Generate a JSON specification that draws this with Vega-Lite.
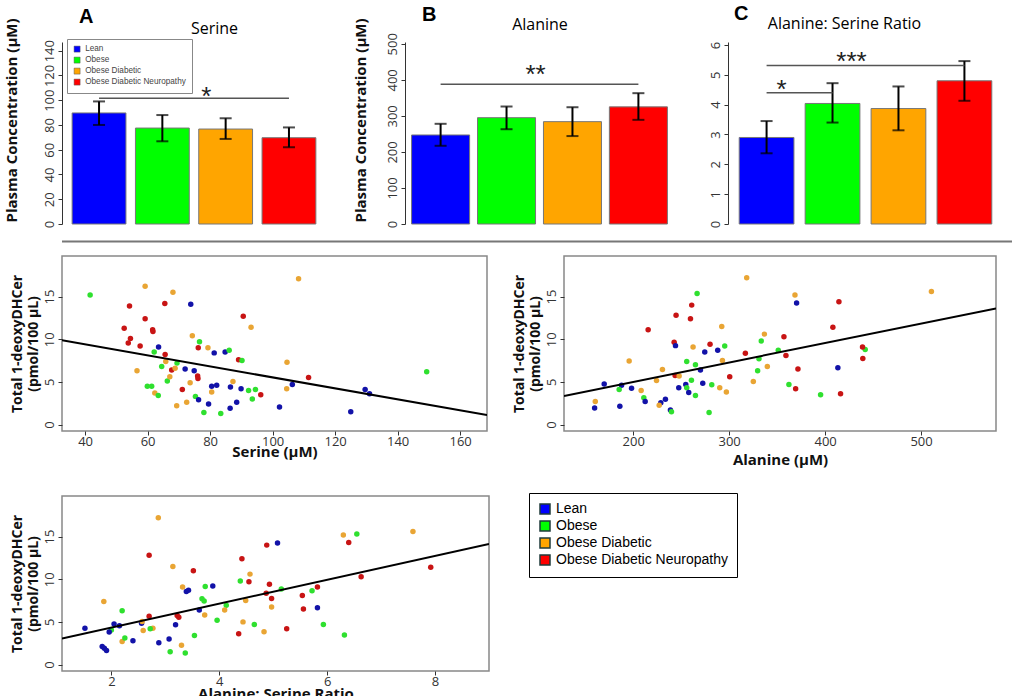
{
 "$schema": "https://vega.github.io/schema/vega-lite/v6.json",
 "padding": {"left": 3, "top": 4, "right": 0, "bottom": 0},
 "background": "white",
 "config": {
  "font": "Open Sans",
  "view": {"stroke": null},
  "axis": {"grid": false, "labelFont": "Open Sans", "labelFontSize": 13, "labelColor": "#333", "tickColor": "#333", "domainColor": "#333", "titleFont": "Open Sans", "titleFontWeight": "bold", "titleColor": "#111", "tickSize": 4, "labelPadding": 2}
 },
 "datasets": {
  "bars": [
   {"group": "Lean", "serine": 89.7, "serLo": 80, "serHi": 99, "alanine": 247, "alaLo": 217, "alaHi": 278, "ratio": 2.9, "ratLo": 2.37, "ratHi": 3.45},
   {"group": "Obese", "serine": 77.5, "serLo": 66.8, "serHi": 88, "alanine": 295, "alaLo": 263, "alaHi": 326, "ratio": 4.04, "ratLo": 3.4, "ratHi": 4.72},
   {"group": "Obese Diabetic", "serine": 76.7, "serLo": 68.7, "serHi": 85.4, "alanine": 284, "alaLo": 244, "alaHi": 324, "ratio": 3.87, "ratLo": 3.14, "ratHi": 4.61},
   {"group": "Obese Diabetic Neuropathy", "serine": 69.7, "serLo": 62, "serHi": 78, "alanine": 325, "alaLo": 289, "alaHi": 363, "ratio": 4.8, "ratLo": 4.13, "ratHi": 5.46}
  ],
  "sig": [
   {"panel": "A", "from": "Lean", "to": "Obese Diabetic Neuropathy", "y": 101.5, "star": "*", "sy": 108.2},
   {"panel": "B", "from": "Lean", "to": "Obese Diabetic Neuropathy", "y": 388, "star": "**", "sy": 433},
   {"panel": "C", "from": "Lean", "to": "Obese Diabetic Neuropathy", "y": 5.31, "star": "***", "sy": 5.67},
   {"panel": "C2", "from": "Lean", "to": "Obese", "y": 4.4, "star": "*", "sy": 4.73}
  ],
  "D": [
   {"g":"O","x":41.6,"y":15.2},{"g":"OD","x":59.2,"y":16.2},{"g":"OD","x":68.1,"y":15.5},{"g":"ODN","x":65.5,"y":14.2},{"g":"L","x":73.8,"y":14.1},{"g":"ODN","x":54.2,"y":13.9},{"g":"ODN","x":59.2,"y":12.4},{"g":"ODN","x":90.6,"y":12.7},{"g":"ODN","x":52.5,"y":11.3},{"g":"OD","x":93.1,"y":11.4},{"g":"ODN","x":61.7,"y":10.9},{"g":"ODN","x":61.6,"y":11.1},{"g":"OD","x":74.3,"y":10.4},{"g":"ODN","x":54.5,"y":10.1},{"g":"ODN","x":53.8,"y":9.55},{"g":"ODN","x":57.6,"y":9.2},{"g":"L","x":63.5,"y":9.1},{"g":"O","x":76.6,"y":9.7},{"g":"OD","x":79.3,"y":9.0},{"g":"ODN","x":76.2,"y":9.0},{"g":"L","x":81.3,"y":8.4},{"g":"L","x":84.8,"y":8.5},{"g":"O","x":86.1,"y":8.7},{"g":"O","x":62.1,"y":8.5},{"g":"ODN","x":65.6,"y":8.2},{"g":"OD","x":65.8,"y":7.4},{"g":"ODN","x":89.1,"y":7.6},{"g":"O","x":90.2,"y":7.5},{"g":"O","x":69.4,"y":7.2},{"g":"OD","x":104.6,"y":7.3},{"g":"O","x":64.5,"y":6.8},{"g":"ODN","x":67.7,"y":6.4},{"g":"OD","x":68.8,"y":6.6},{"g":"L","x":72.0,"y":6.5},{"g":"L","x":74.9,"y":6.3},{"g":"OD","x":56.6,"y":6.3},{"g":"O","x":149.3,"y":6.2},{"g":"ODN","x":76.0,"y":5.7},{"g":"ODN","x":76.1,"y":5.4},{"g":"ODN","x":111.5,"y":5.5},{"g":"OD","x":87.3,"y":5.05},{"g":"O","x":66.3,"y":5.1},{"g":"OD","x":67.1,"y":5.6},{"g":"OD","x":73.6,"y":4.9},{"g":"L","x":80.5,"y":4.5},{"g":"L","x":82.1,"y":4.6},{"g":"L","x":86.5,"y":4.4},{"g":"L","x":89.9,"y":4.2},{"g":"L","x":106.3,"y":4.7},{"g":"O","x":59.9,"y":4.5},{"g":"O","x":61.3,"y":4.5},{"g":"OD","x":104.5,"y":4.2},{"g":"L","x":129.6,"y":4.1},{"g":"L","x":131.0,"y":3.6},{"g":"ODN","x":71.1,"y":4.1},{"g":"O","x":92.3,"y":4.0},{"g":"O","x":94.5,"y":4.1},{"g":"OD","x":80.5,"y":3.8},{"g":"OD","x":62.3,"y":3.7},{"g":"O","x":63.4,"y":3.4},{"g":"O","x":75.3,"y":3.3},{"g":"O","x":93.5,"y":3.0},{"g":"ODN","x":96.2,"y":3.5},{"g":"L","x":76.3,"y":2.9},{"g":"OD","x":72.5,"y":2.6},{"g":"OD","x":69.3,"y":2.2},{"g":"L","x":79.5,"y":2.4},{"g":"L","x":88.5,"y":2.6},{"g":"L","x":86.4,"y":1.9},{"g":"L","x":102.2,"y":2.05},{"g":"L","x":125.0,"y":1.5},{"g":"O","x":78.0,"y":1.4},{"g":"O","x":83.4,"y":1.3},{"g":"OD","x":108.3,"y":17.1}
  ],
  "DL": [{"x": 32.6, "y": 9.87}, {"x": 168.6, "y": 1.1}],
  "E": [
   {"g":"OD","x":318.3,"y":17.2},{"g":"O","x":266.6,"y":15.35},{"g":"OD","x":368.6,"y":15.2},{"g":"OD","x":510.8,"y":15.6},{"g":"L","x":370.3,"y":14.25},{"g":"ODN","x":414.4,"y":14.4},{"g":"ODN","x":261.0,"y":14.0},{"g":"ODN","x":244.7,"y":12.8},{"g":"ODN","x":259.7,"y":12.4},{"g":"ODN","x":215.6,"y":11.1},{"g":"OD","x":292.3,"y":11.5},{"g":"ODN","x":408.1,"y":11.4},{"g":"OD","x":336.7,"y":10.6},{"g":"O","x":333.5,"y":9.8},{"g":"ODN","x":357.1,"y":10.3},{"g":"ODN","x":242.7,"y":9.65},{"g":"L","x":244.1,"y":9.25},{"g":"OD","x":262.4,"y":9.1},{"g":"ODN","x":280.1,"y":9.4},{"g":"O","x":295.4,"y":9.2},{"g":"L","x":288.1,"y":8.7},{"g":"L","x":274.6,"y":8.5},{"g":"O","x":351.2,"y":8.7},{"g":"O","x":441.8,"y":8.8},{"g":"ODN","x":439.0,"y":9.1},{"g":"ODN","x":316.9,"y":8.35},{"g":"ODN","x":359.2,"y":8.1},{"g":"O","x":331.1,"y":7.7},{"g":"ODN","x":439.3,"y":7.75},{"g":"OD","x":195.8,"y":7.45},{"g":"OD","x":293.0,"y":7.5},{"g":"O","x":255.8,"y":7.4},{"g":"O","x":264.9,"y":7.0},{"g":"OD","x":339.8,"y":6.8},{"g":"L","x":270.1,"y":6.4},{"g":"ODN","x":371.7,"y":6.5},{"g":"L","x":413.3,"y":6.65},{"g":"OD","x":230.5,"y":6.45},{"g":"O","x":329.7,"y":6.3},{"g":"ODN","x":243.7,"y":5.75},{"g":"OD","x":247.9,"y":5.7},{"g":"ODN","x":300.6,"y":5.6},{"g":"O","x":260.7,"y":5.2},{"g":"OD","x":224.3,"y":5.15},{"g":"L","x":254.8,"y":4.7},{"g":"L","x":272.5,"y":4.85},{"g":"OD","x":325.2,"y":5.05},{"g":"O","x":281.9,"y":4.65},{"g":"O","x":362.3,"y":4.7},{"g":"L","x":247.5,"y":4.3},{"g":"L","x":169.8,"y":4.75},{"g":"L","x":187.9,"y":4.6},{"g":"L","x":198.3,"y":4.25},{"g":"OD","x":208.3,"y":4.0},{"g":"O","x":185.4,"y":4.1},{"g":"ODN","x":369.3,"y":4.2},{"g":"O","x":255.8,"y":4.3},{"g":"L","x":257.9,"y":3.75},{"g":"OD","x":290.2,"y":4.3},{"g":"OD","x":297.1,"y":3.8},{"g":"O","x":264.9,"y":3.4},{"g":"O","x":395.3,"y":3.5},{"g":"ODN","x":416.1,"y":3.6},{"g":"O","x":211.1,"y":3.15},{"g":"L","x":212.5,"y":2.7},{"g":"L","x":233.6,"y":2.95},{"g":"L","x":228.8,"y":2.55},{"g":"OD","x":160.5,"y":2.7},{"g":"OD","x":227.1,"y":2.25},{"g":"L","x":238.8,"y":1.7},{"g":"O","x":239.9,"y":1.5},{"g":"L","x":186.1,"y":2.15},{"g":"L","x":159.8,"y":1.95},{"g":"O","x":279.1,"y":1.4}
  ],
  "EL": [{"x": 127.9, "y": 3.35}, {"x": 578.1, "y": 13.62}],
  "F": [
   {"g":"OD","x":2.87,"y":17.2},{"g":"OD","x":6.30,"y":15.2},{"g":"O","x":6.55,"y":15.3},{"g":"OD","x":7.59,"y":15.6},{"g":"L","x":5.08,"y":14.25},{"g":"ODN","x":4.88,"y":14.0},{"g":"ODN","x":6.40,"y":14.3},{"g":"ODN","x":2.70,"y":12.8},{"g":"ODN","x":4.42,"y":12.4},{"g":"OD","x":3.14,"y":11.5},{"g":"ODN","x":3.52,"y":11.0},{"g":"ODN","x":7.92,"y":11.4},{"g":"ODN","x":6.63,"y":10.3},{"g":"OD","x":4.57,"y":10.6},{"g":"O","x":4.39,"y":9.8},{"g":"ODN","x":4.55,"y":9.7},{"g":"ODN","x":4.93,"y":9.4},{"g":"OD","x":3.32,"y":9.1},{"g":"L","x":3.39,"y":8.55},{"g":"L","x":3.43,"y":8.7},{"g":"L","x":3.88,"y":9.2},{"g":"O","x":3.74,"y":9.15},{"g":"ODN","x":5.82,"y":9.1},{"g":"ODN","x":4.87,"y":8.35},{"g":"O","x":5.15,"y":8.85},{"g":"ODN","x":4.97,"y":7.75},{"g":"O","x":5.72,"y":8.65},{"g":"ODN","x":5.54,"y":8.1},{"g":"ODN","x":5.56,"y":6.5},{"g":"O","x":3.68,"y":7.7},{"g":"O","x":3.72,"y":7.45},{"g":"OD","x":4.49,"y":7.5},{"g":"OD","x":4.97,"y":6.75},{"g":"O","x":4.13,"y":6.95},{"g":"L","x":3.63,"y":6.4},{"g":"OD","x":4.10,"y":6.4},{"g":"L","x":5.82,"y":6.65},{"g":"OD","x":3.73,"y":5.8},{"g":"ODN","x":2.70,"y":5.65},{"g":"ODN","x":3.22,"y":5.75},{"g":"ODN","x":3.25,"y":5.55},{"g":"O","x":2.20,"y":6.3},{"g":"OD","x":1.86,"y":7.4},{"g":"O","x":5.93,"y":4.7},{"g":"O","x":4.65,"y":4.7},{"g":"O","x":3.96,"y":5.2},{"g":"OD","x":4.44,"y":5.0},{"g":"OD","x":4.83,"y":3.85},{"g":"ODN","x":5.25,"y":4.2},{"g":"ODN","x":4.36,"y":3.6},{"g":"L","x":1.51,"y":4.25},{"g":"L","x":2.05,"y":4.75},{"g":"L","x":2.15,"y":4.55},{"g":"L","x":2.56,"y":4.85},{"g":"OD","x":2.57,"y":5.05},{"g":"L","x":3.19,"y":4.65},{"g":"OD","x":2.59,"y":4.0},{"g":"OD","x":2.77,"y":4.25},{"g":"O","x":2.72,"y":4.2},{"g":"O","x":2.0,"y":4.05},{"g":"L","x":1.96,"y":3.8},{"g":"OD","x":2.20,"y":2.7},{"g":"O","x":2.25,"y":3.1},{"g":"L","x":2.40,"y":2.8},{"g":"OD","x":3.30,"y":2.25},{"g":"L","x":2.88,"y":2.55},{"g":"L","x":3.07,"y":3.0},{"g":"O","x":3.54,"y":3.4},{"g":"O","x":3.09,"y":1.5},{"g":"O","x":3.37,"y":1.35},{"g":"L","x":1.83,"y":2.1},{"g":"L","x":1.87,"y":1.9},{"g":"L","x":1.91,"y":1.65},{"g":"O","x":6.32,"y":3.45}
  ],
  "FL": [{"x": 1.085, "y": 3.06}, {"x": 9.0, "y": 14.13}]
 },
 "vconcat": [
  {
   "vconcat": [
    {
     "hconcat": [
      {
       "hconcat": [
        {
         "width": 264, "height": 182,
         "title": {"text": "A", "anchor": "start", "frame": "group", "dx": 17, "fontSize": 20, "fontWeight": "bold", "font": "Liberation Sans", "offset": -25, "baseline": "alphabetic"},
         "data": {"name": "bars"},
         "encoding": {
          "x": {"field": "group", "type": "nominal", "scale": {"paddingInner": 0.15, "paddingOuter": 0.16}, "axis": {"orient": "top", "title": "Serine", "labels": false, "ticks": false, "domain": false, "titleFontWeight": "normal", "titleFontSize": 16, "titlePadding": 9, "titleBaseline": "alphabetic", "titleX": 152, "titleColor": "black"}},
          "y": {"type": "quantitative", "scale": {"domain": [0, 147], "nice": false}, "axis": {"values": [0, 20, 40, 60, 80, 100, 120, 140], "title": "Plasma Concentration (µM)", "titleFontSize": 15, "titlePadding": 24, "titleY": 78, "labelAngle": -90, "labelAlign": "center", "labelBaseline": "bottom"}}
         },
         "layer": [
          {"mark": {"type": "bar", "stroke": "#777", "strokeWidth": 1}, "encoding": {"y": {"field": "serine", "type": "quantitative"}, "color": {"field": "group", "type": "nominal", "scale": {"domain": ["Lean", "Obese", "Obese Diabetic", "Obese Diabetic Neuropathy"], "range": ["#0000ff", "#00ff00", "#ffa500", "#ff0000"]}, "legend": {"orient": "none", "legendX": 5, "legendY": -3, "title": null, "symbolType": "square", "symbolSize": 36, "symbolStrokeColor": "#555", "symbolStrokeWidth": 0.5, "labelFont": "Liberation Sans", "labelFontSize": 8.2, "labelColor": "#444", "labelLimit": 300, "strokeColor": "#888", "fillColor": "white", "padding": 6, "rowPadding": 1}}}},
          {"mark": {"type": "rule", "strokeWidth": 2, "color": "black"}, "encoding": {"y": {"field": "serLo", "type": "quantitative"}, "y2": {"field": "serHi"}}},
          {"mark": {"type": "tick", "size": 12, "thickness": 2, "color": "black"}, "encoding": {"y": {"field": "serLo", "type": "quantitative"}}},
          {"mark": {"type": "tick", "size": 12, "thickness": 2, "color": "black"}, "encoding": {"y": {"field": "serHi", "type": "quantitative"}}},
          {"data": {"name": "sig"}, "transform": [{"filter": "datum.panel === 'A'"}], "mark": {"type": "rule", "color": "#555", "strokeWidth": 1.5}, "encoding": {"x": {"field": "from", "type": "nominal"}, "x2": {"field": "to"}, "y": {"field": "y", "type": "quantitative"}}},
          {"data": {"name": "sig"}, "transform": [{"filter": "datum.panel === 'A'"}], "mark": {"type": "text", "font": "Liberation Sans", "fontSize": 26, "baseline": "alphabetic", "align": "center", "dx": 44, "dy": 15, "color": "#222"}, "encoding": {"x": {"datum": "Obese"}, "y": {"field": "sy", "type": "quantitative"}, "text": {"field": "star"}}}
         ]
        },
        {
         "width": 269, "height": 182,
         "title": {"text": "B", "anchor": "start", "frame": "group", "dx": 17, "fontSize": 20, "fontWeight": "bold", "font": "Liberation Sans", "offset": -25, "baseline": "alphabetic"},
         "data": {"name": "bars"},
         "encoding": {
          "x": {"field": "group", "type": "nominal", "scale": {"paddingInner": 0.12, "paddingOuter": 0.1}, "axis": {"orient": "top", "title": "Alanine", "labels": false, "ticks": false, "domain": false, "titleFontWeight": "normal", "titleFontSize": 16, "titlePadding": 13, "titleBaseline": "alphabetic", "titleColor": "black"}},
          "y": {"type": "quantitative", "scale": {"domain": [0, 505], "nice": false}, "axis": {"values": [0, 100, 200, 300, 400, 500], "title": "Plasma Concentration (µM)", "titleFontSize": 15, "titlePadding": 18, "titleY": 78, "labelAngle": -90, "labelAlign": "center", "labelBaseline": "bottom"}}
         },
         "layer": [
          {"mark": {"type": "bar", "stroke": "#777", "strokeWidth": 1}, "encoding": {"y": {"field": "alanine", "type": "quantitative"}, "color": {"field": "group", "type": "nominal", "scale": {"domain": ["Lean", "Obese", "Obese Diabetic", "Obese Diabetic Neuropathy"], "range": ["#0000ff", "#00ff00", "#ffa500", "#ff0000"]}, "legend": null}}},
          {"mark": {"type": "rule", "strokeWidth": 2, "color": "black"}, "encoding": {"y": {"field": "alaLo", "type": "quantitative"}, "y2": {"field": "alaHi"}}},
          {"mark": {"type": "tick", "size": 12, "thickness": 2, "color": "black"}, "encoding": {"y": {"field": "alaLo", "type": "quantitative"}}},
          {"mark": {"type": "tick", "size": 12, "thickness": 2, "color": "black"}, "encoding": {"y": {"field": "alaHi", "type": "quantitative"}}},
          {"data": {"name": "sig"}, "transform": [{"filter": "datum.panel === 'B'"}], "mark": {"type": "rule", "color": "#555", "strokeWidth": 1.5}, "encoding": {"x": {"field": "from", "type": "nominal"}, "x2": {"field": "to"}, "y": {"field": "y", "type": "quantitative"}}},
          {"data": {"name": "sig"}, "transform": [{"filter": "datum.panel === 'B'"}], "mark": {"type": "text", "font": "Liberation Sans", "fontSize": 26, "baseline": "alphabetic", "align": "center", "dx": 29, "dy": 15, "color": "#222"}, "encoding": {"x": {"datum": "Obese"}, "y": {"field": "sy", "type": "quantitative"}, "text": {"field": "star"}}}
         ]
        }
       ],
       "spacing": 26,
       "resolve": {"scale": {"color": "independent"}, "legend": {"color": "independent"}}
      },
      {
       "width": 275, "height": 182,
       "title": {"text": "C", "anchor": "start", "frame": "group", "dx": 6, "fontSize": 20, "fontWeight": "bold", "font": "Liberation Sans", "offset": -25, "baseline": "alphabetic"},
       "data": {"name": "bars"},
       "encoding": {
        "x": {"field": "group", "type": "nominal", "scale": {"paddingInner": 0.17, "paddingOuter": 0.17}, "axis": {"orient": "top", "title": "Alanine: Serine Ratio", "labels": false, "ticks": false, "domain": false, "titleFontWeight": "normal", "titleFontSize": 16, "titlePadding": 14, "titleBaseline": "alphabetic", "titleX": 116, "titleColor": "black"}},
        "y": {"type": "quantitative", "scale": {"domain": [0, 6.1], "nice": false}, "axis": {"values": [0, 1, 2, 3, 4, 5, 6], "title": null, "labelAngle": -90, "labelAlign": "center", "labelBaseline": "bottom"}}
       },
       "layer": [
        {"mark": {"type": "bar", "stroke": "#777", "strokeWidth": 1}, "encoding": {"y": {"field": "ratio", "type": "quantitative"}, "color": {"field": "group", "type": "nominal", "scale": {"domain": ["Lean", "Obese", "Obese Diabetic", "Obese Diabetic Neuropathy"], "range": ["#0000ff", "#00ff00", "#ffa500", "#ff0000"]}, "legend": null}}},
        {"mark": {"type": "rule", "strokeWidth": 2, "color": "black"}, "encoding": {"y": {"field": "ratLo", "type": "quantitative"}, "y2": {"field": "ratHi"}}},
        {"mark": {"type": "tick", "size": 12, "thickness": 2, "color": "black"}, "encoding": {"y": {"field": "ratLo", "type": "quantitative"}}},
        {"mark": {"type": "tick", "size": 12, "thickness": 2, "color": "black"}, "encoding": {"y": {"field": "ratHi", "type": "quantitative"}}},
        {"data": {"name": "sig"}, "transform": [{"filter": "datum.panel === 'C' || datum.panel === 'C2'"}], "mark": {"type": "rule", "color": "#555", "strokeWidth": 1.5}, "encoding": {"x": {"field": "from", "type": "nominal"}, "x2": {"field": "to"}, "y": {"field": "y", "type": "quantitative"}}},
        {"data": {"name": "sig"}, "transform": [{"filter": "datum.panel === 'C'"}], "mark": {"type": "text", "font": "Liberation Sans", "fontSize": 26, "baseline": "alphabetic", "align": "center", "dx": 19, "dy": 15, "color": "#222"}, "encoding": {"x": {"datum": "Obese"}, "y": {"field": "sy", "type": "quantitative"}, "text": {"field": "star"}}},
        {"data": {"name": "sig"}, "transform": [{"filter": "datum.panel === 'C2'"}], "mark": {"type": "text", "font": "Liberation Sans", "fontSize": 26, "baseline": "alphabetic", "align": "center", "dx": 15, "dy": 15, "color": "#222"}, "encoding": {"x": {"datum": "Lean"}, "y": {"field": "sy", "type": "quantitative"}, "text": {"field": "star"}}}
       ]
      }
     ],
     "spacing": 35,
     "resolve": {"scale": {"color": "independent"}, "legend": {"color": "independent"}}
    },
    {
     "width": 1009, "height": 2,
     "data": {"values": [{"v": 0}]},
     "mark": {"type": "rule", "color": "#777", "strokeWidth": 2},
     "encoding": {"y": {"field": "v", "type": "quantitative", "scale": {"domain": [-1, 1]}, "axis": null}}
    },
    {
     "hconcat": [
      {
       "width": 425, "height": 175,
       "view": {"stroke": "#888", "strokeWidth": 1.5},
       "encoding": {
        "x": {"field": "x", "type": "quantitative", "scale": {"domain": [32.6, 168.6], "nice": false, "zero": false}, "axis": {"values": [40, 60, 80, 100, 120, 140, 160], "title": "Serine (µM)", "domain": false, "labelPadding": 0, "titleFontSize": 15, "titlePadding": -4}},
        "y": {"field": "y", "type": "quantitative", "scale": {"domain": [-0.76, 19.76], "nice": false, "zero": false}, "axis": {"values": [0, 5, 10, 15], "title": ["Total 1-deoxyDHCer", "(pmol/100 µL)"], "titleFontSize": 14, "titleLineHeight": 16, "titlePadding": 3, "labelAngle": -90, "labelAlign": "center", "labelBaseline": "bottom", "domain": false}}
       },
       "layer": [
        {"data": {"name": "D"}, "mark": {"type": "circle", "size": 30, "opacity": 1}, "encoding": {"color": {"field": "g", "type": "nominal", "scale": {"domain": ["L", "O", "OD", "ODN"], "range": ["#1212a8", "#2fe02f", "#e9a534", "#c81414"]}, "legend": null}}},
        {"data": {"name": "DL"}, "mark": {"type": "line", "color": "black", "strokeWidth": 2, "clip": true}, "encoding": {}},
        {"data": {"values": [{"t": "D"}]}, "mark": {"type": "text", "font": "Liberation Sans", "fontWeight": "bold", "fontSize": 25, "align": "left", "baseline": "alphabetic", "color": "black"}, "encoding": {"text": {"field": "t"}, "x": {"datum": 35.8}, "y": {"datum": 16.55}}},
        {"data": {"values": [{"t": "CC = -0.332, p value = 0.0037"}]}, "mark": {"type": "text", "font": "Liberation Sans", "fontWeight": "bold", "fontSize": 8.5, "align": "right", "baseline": "alphabetic", "color": "black"}, "encoding": {"text": {"field": "t"}, "x": {"datum": 165.7}, "y": {"datum": 18.1}}}
       ]
      },
      {
       "width": 432, "height": 175,
       "view": {"stroke": "#888", "strokeWidth": 1.5},
       "encoding": {
        "x": {"field": "x", "type": "quantitative", "scale": {"domain": [127.9, 578.1], "nice": false, "zero": false}, "axis": {"values": [200, 300, 400, 500], "title": "Alanine (µM)", "domain": false, "labelPadding": 0, "titleFontSize": 15, "titlePadding": 4}},
        "y": {"field": "y", "type": "quantitative", "scale": {"domain": [-0.76, 19.76], "nice": false, "zero": false}, "axis": {"values": [0, 5, 10, 15], "title": ["Total 1-deoxyDHCer", "(pmol/100 µL)"], "titleFontSize": 14, "titleLineHeight": 16, "titlePadding": 3, "labelAngle": -90, "labelAlign": "center", "labelBaseline": "bottom", "domain": false}}
       },
       "layer": [
        {"data": {"name": "E"}, "mark": {"type": "circle", "size": 30, "opacity": 1}, "encoding": {"color": {"field": "g", "type": "nominal", "scale": {"domain": ["L", "O", "OD", "ODN"], "range": ["#1212a8", "#2fe02f", "#e9a534", "#c81414"]}, "legend": null}}},
        {"data": {"name": "EL"}, "mark": {"type": "line", "color": "black", "strokeWidth": 2, "clip": true}, "encoding": {}},
        {"data": {"values": [{"t": "E"}]}, "mark": {"type": "text", "font": "Liberation Sans", "fontWeight": "bold", "fontSize": 25, "align": "left", "baseline": "alphabetic", "color": "black"}, "encoding": {"text": {"field": "t"}, "x": {"datum": 138.3}, "y": {"datum": 16.7}}},
        {"data": {"values": [{"t": "CC = 0.447, p value < 0.0001"}]}, "mark": {"type": "text", "font": "Liberation Sans", "fontWeight": "bold", "fontSize": 8.5, "align": "right", "baseline": "alphabetic", "color": "black"}, "encoding": {"text": {"field": "t"}, "x": {"datum": 567.5}, "y": {"datum": 18.0}}}
       ]
      }
     ],
     "spacing": 23,
     "resolve": {"scale": {"color": "independent"}, "legend": {"color": "independent"}}
    }
   ],
   "spacing": 12.5,
   "resolve": {"scale": {"color": "independent"}, "legend": {"color": "independent"}}
  },
  {
   "hconcat": [
    {
     "width": 427, "height": 175,
     "view": {"stroke": "#888", "strokeWidth": 1.5},
     "encoding": {
      "x": {"field": "x", "type": "quantitative", "scale": {"domain": [1.085, 9.0], "nice": false, "zero": false}, "axis": {"values": [2, 4, 6, 8], "title": "Alanine: Serine Ratio", "domain": false, "labelPadding": 0, "titleFontSize": 15, "titlePadding": -2}},
      "y": {"field": "y", "type": "quantitative", "scale": {"domain": [-0.76, 19.76], "nice": false, "zero": false}, "axis": {"values": [0, 5, 10, 15], "title": ["Total 1-deoxyDHCer", "(pmol/100 µL)"], "titleFontSize": 14, "titleLineHeight": 16, "titlePadding": 3, "labelAngle": -90, "labelAlign": "center", "labelBaseline": "bottom", "domain": false}}
     },
     "layer": [
      {"data": {"name": "F"}, "mark": {"type": "circle", "size": 30, "opacity": 1}, "encoding": {"color": {"field": "g", "type": "nominal", "scale": {"domain": ["L", "O", "OD", "ODN"], "range": ["#1212a8", "#2fe02f", "#e9a534", "#c81414"]}, "legend": null}}},
      {"data": {"name": "FL"}, "mark": {"type": "line", "color": "black", "strokeWidth": 2, "clip": true}, "encoding": {}},
      {"data": {"values": [{"t": "F"}]}, "mark": {"type": "text", "font": "Liberation Sans", "fontWeight": "bold", "fontSize": 25, "align": "left", "baseline": "alphabetic", "color": "black"}, "encoding": {"text": {"field": "t"}, "x": {"datum": 1.27}, "y": {"datum": 16.5}}},
      {"data": {"values": [{"t": "CC = 0.543, p value < 0.0001"}]}, "mark": {"type": "text", "font": "Liberation Sans", "fontWeight": "bold", "fontSize": 8.5, "align": "right", "baseline": "alphabetic", "color": "black"}, "encoding": {"text": {"field": "t"}, "x": {"datum": 8.8}, "y": {"datum": 18.06}}}
     ]
    },
    {
     "width": 214, "height": 84,
     "data": {"name": "bars"},
     "mark": {"type": "square", "opacity": 0},
     "encoding": {
      "color": {"field": "group", "type": "nominal", "scale": {"domain": ["Lean", "Obese", "Obese Diabetic", "Obese Diabetic Neuropathy"], "range": ["#0000ff", "#00ff00", "#ffa500", "#ff0000"]}, "legend": {"orient": "none", "legendX": 0, "legendY": -3, "title": null, "symbolType": "square", "symbolSize": 100, "symbolOpacity": 1, "symbolStrokeColor": "#1f3b3b", "symbolStrokeWidth": 1.5, "labelFont": "Liberation Sans", "labelFontSize": 14, "labelColor": "black", "labelLimit": 400, "strokeColor": "black", "fillColor": "white", "padding": 9, "rowPadding": 1}}
     }
    }
   ],
   "spacing": 38,
   "resolve": {"scale": {"color": "independent"}, "legend": {"color": "independent"}}
  }
 ],
 "spacing": 24,
 "resolve": {"scale": {"color": "independent"}, "legend": {"color": "independent"}}
}
